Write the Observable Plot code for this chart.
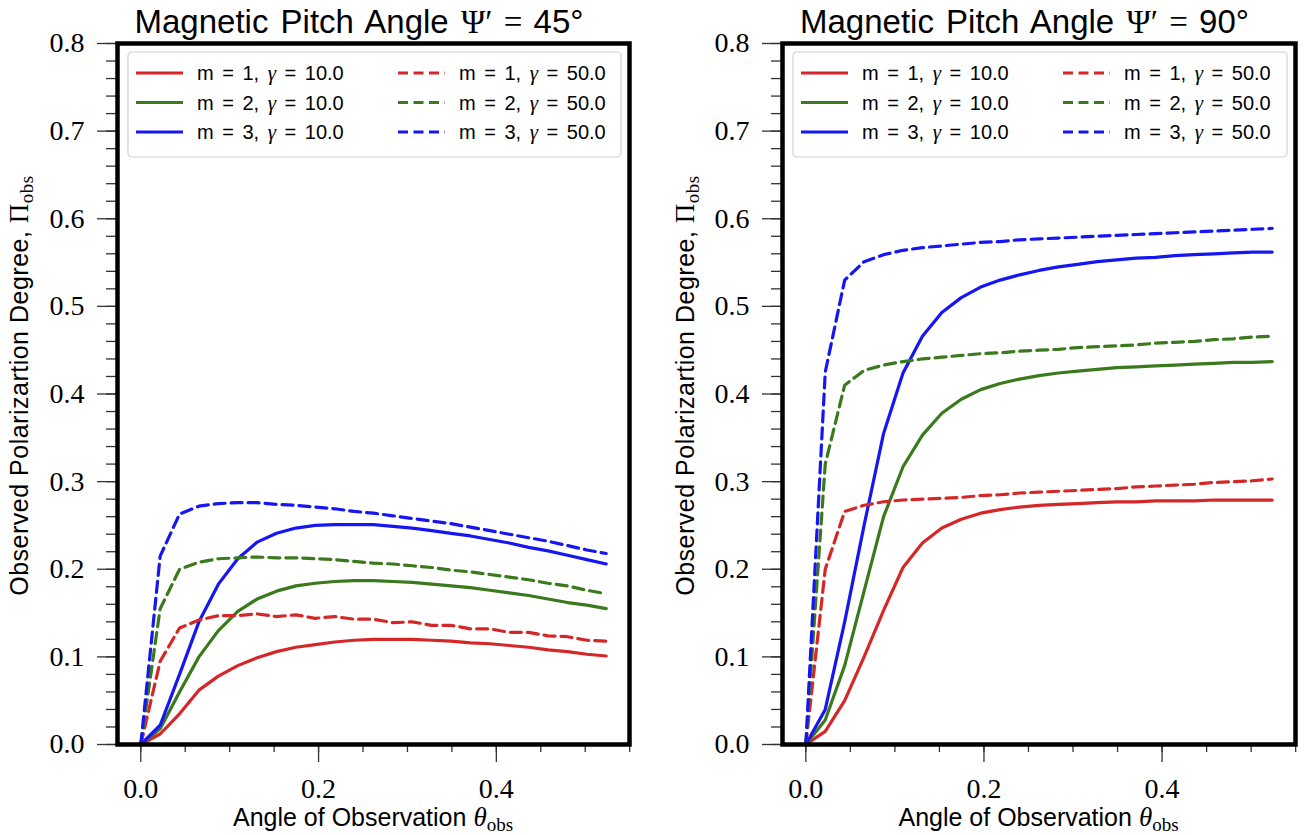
<!DOCTYPE html>
<html><head><meta charset="utf-8">
<script src="https://cdn.jsdelivr.net/npm/d3@7"></script>
<script src="https://cdn.jsdelivr.net/npm/@observablehq/plot@0.6"></script>
<style>
html,body{margin:0;padding:0;background:#fff;}
#wrap{position:relative;width:1306px;height:835px;overflow:hidden;background:#fff;}
#wrap svg{position:absolute;top:0;}
</style></head><body><div id="wrap"></div>
<script>
// Angle of observation theta_obs (radians)
const theta = [0, 0.0218, 0.0436, 0.0654, 0.0873, 0.1091, 0.1309, 0.1527, 0.1745, 0.1963, 0.2182, 0.2400, 0.2618, 0.2836, 0.3054, 0.3272, 0.3491, 0.3709, 0.3927, 0.4145, 0.4363, 0.4581, 0.4800, 0.5018, 0.5236];

// Pitch angle 45 deg
const p45_m1_g10 = [0, 0.012, 0.035, 0.062, 0.078, 0.090, 0.099, 0.106, 0.111, 0.114, 0.117, 0.119, 0.120, 0.120, 0.120, 0.119, 0.118, 0.116, 0.115, 0.113, 0.111, 0.108, 0.106, 0.103, 0.101];
const p45_m2_g10 = [0, 0.018, 0.060, 0.100, 0.130, 0.152, 0.166, 0.175, 0.181, 0.184, 0.186, 0.187, 0.187, 0.186, 0.185, 0.183, 0.181, 0.179, 0.176, 0.173, 0.170, 0.166, 0.162, 0.159, 0.155];
const p45_m3_g10 = [0, 0.022, 0.080, 0.140, 0.183, 0.212, 0.231, 0.241, 0.247, 0.250, 0.251, 0.251, 0.251, 0.249, 0.247, 0.244, 0.241, 0.238, 0.234, 0.230, 0.225, 0.221, 0.216, 0.211, 0.206];
const p45_m1_g50 = [0, 0.095, 0.133, 0.142, 0.147, 0.147, 0.149, 0.146, 0.148, 0.144, 0.146, 0.143, 0.143, 0.139, 0.140, 0.136, 0.136, 0.132, 0.132, 0.128, 0.128, 0.124, 0.123, 0.119, 0.118];
const p45_m2_g50 = [0, 0.155, 0.200, 0.208, 0.212, 0.213, 0.214, 0.213, 0.213, 0.212, 0.211, 0.209, 0.207, 0.206, 0.204, 0.202, 0.199, 0.197, 0.194, 0.191, 0.188, 0.184, 0.181, 0.176, 0.172];
const p45_m3_g50 = [0, 0.215, 0.263, 0.272, 0.275, 0.276, 0.276, 0.274, 0.273, 0.271, 0.269, 0.266, 0.264, 0.261, 0.258, 0.255, 0.252, 0.248, 0.244, 0.240, 0.236, 0.232, 0.227, 0.222, 0.218];

// Pitch angle 90 deg
const p90_m1_g10 = [0, 0.015, 0.050, 0.100, 0.153, 0.202, 0.230, 0.247, 0.257, 0.264, 0.268, 0.271, 0.273, 0.274, 0.275, 0.276, 0.277, 0.277, 0.278, 0.278, 0.278, 0.279, 0.279, 0.279, 0.279];
const p90_m2_g10 = [0, 0.028, 0.090, 0.175, 0.260, 0.317, 0.353, 0.378, 0.394, 0.405, 0.412, 0.417, 0.421, 0.424, 0.426, 0.428, 0.430, 0.431, 0.432, 0.433, 0.434, 0.435, 0.436, 0.436, 0.437];
const p90_m3_g10 = [0, 0.040, 0.140, 0.250, 0.355, 0.424, 0.466, 0.493, 0.510, 0.522, 0.530, 0.536, 0.541, 0.545, 0.548, 0.551, 0.553, 0.555, 0.556, 0.558, 0.559, 0.560, 0.561, 0.562, 0.562];
const p90_m1_g50 = [0, 0.200, 0.266, 0.273, 0.277, 0.279, 0.280, 0.281, 0.282, 0.284, 0.285, 0.287, 0.288, 0.289, 0.290, 0.291, 0.292, 0.294, 0.295, 0.296, 0.297, 0.299, 0.300, 0.301, 0.303];
const p90_m2_g50 = [0, 0.320, 0.410, 0.427, 0.433, 0.437, 0.440, 0.442, 0.444, 0.446, 0.447, 0.449, 0.450, 0.451, 0.453, 0.454, 0.455, 0.456, 0.458, 0.459, 0.460, 0.462, 0.463, 0.465, 0.466];
const p90_m3_g50 = [0, 0.425, 0.530, 0.551, 0.559, 0.564, 0.567, 0.569, 0.571, 0.573, 0.574, 0.576, 0.577, 0.578, 0.579, 0.580, 0.581, 0.582, 0.583, 0.584, 0.585, 0.586, 0.587, 0.588, 0.589];

const mValues = [1, 2, 3];
const gammaValues = ["10.0", "50.0"];
const seriesColors = ["#d62728", "#3a7a1c", "#1616f2"];
const pitchLabels = ["45", "90"];

const xMajorTicks = [0, 0.2, 0.4];
const xMinorTicks = [0, 0.05, 0.1, 0.15, 0.2, 0.25, 0.3, 0.35, 0.4, 0.45, 0.5, 0.55];
const yMajorTicks = [0, 0.1, 0.2, 0.3, 0.4, 0.5, 0.6, 0.7, 0.8];
const yMinorTicks = [0, 0.02, 0.04, 0.06, 0.08, 0.1, 0.12, 0.14, 0.16, 0.18, 0.2, 0.22, 0.24, 0.26, 0.28, 0.3, 0.32, 0.34, 0.36, 0.38, 0.4, 0.42, 0.44, 0.46, 0.48, 0.5, 0.52, 0.54, 0.56, 0.58, 0.6, 0.62, 0.64, 0.66, 0.68, 0.7, 0.72, 0.74, 0.76, 0.78, 0.8];

const panels = [
  {pitch: pitchLabels[0], left: 0, marginLeft: 117, marginRight: 24, ylabelX: 28,
   series: [[p45_m1_g10, p45_m2_g10, p45_m3_g10], [p45_m1_g50, p45_m2_g50, p45_m3_g50]]},
  {pitch: pitchLabels[1], left: 653, marginLeft: 129, marginRight: 11, ylabelX: 41,
   series: [[p90_m1_g10, p90_m2_g10, p90_m3_g10], [p90_m1_g50, p90_m2_g50, p90_m3_g50]]}
];

const W = 653, H = 835, MT = 43, MB = 91;
const SANS = "'Liberation Sans', Arial, sans-serif";
const SERIF = "'Liberation Serif', 'Times New Roman', serif";

const wrap = document.getElementById("wrap");

for (const p of panels) {
  const rows = [];
  p.series.forEach((group, gi) => group.forEach((vals, mi) => {
    vals.forEach((v, i) => rows.push({theta: theta[i], pi: v, m: mValues[mi], gamma: gammaValues[gi]}));
  }));
  const tickColor = "#333";
  const chart = Plot.plot({
    width: W, height: H,
    marginLeft: p.marginLeft, marginRight: p.marginRight, marginTop: MT, marginBottom: MB,
    x: {domain: [-0.0262, 0.5498], label: null},
    y: {domain: [0, 0.8], label: null},
    color: {domain: mValues, range: seriesColors},
    style: {fontFamily: SERIF, fontSize: "28px", color: "#000", background: "transparent", overflow: "visible"},
    marks: [
      Plot.line(rows.filter(d => d.gamma === gammaValues[0]), {x: "theta", y: "pi", z: "m", stroke: "m", strokeWidth: 3.2}),
      Plot.line(rows.filter(d => d.gamma === gammaValues[1]), {x: "theta", y: "pi", z: "m", stroke: "m", strokeWidth: 3.2, strokeDasharray: "11,6"}),
      Plot.axisX({ticks: xMinorTicks, tickSize: 8, tickFormat: () => "", stroke: tickColor, strokeWidth: 1.3, label: null}),
      Plot.axisX({ticks: xMajorTicks, tickSize: 18, tickPadding: 16, tickFormat: d3.format(".1f"), stroke: tickColor, strokeWidth: 1.3, fill: "#000", fontSize: 28, label: null}),
      Plot.axisY({ticks: yMinorTicks, tickSize: 11, tickFormat: () => "", stroke: tickColor, strokeWidth: 1.3, label: null}),
      Plot.axisY({ticks: yMajorTicks, tickSize: 20, tickPadding: 13, tickFormat: d3.format(".1f"), stroke: tickColor, strokeWidth: 1.3, fill: "#000", fontSize: 28, label: null}),
      Plot.frame({stroke: "#000", strokeWidth: 4.5})
    ]
  });
  chart.style.left = p.left + "px";
  wrap.appendChild(chart);

  const svg = d3.select(chart);
  const fl = p.marginLeft, fr = W - p.marginRight, ft = MT, fb = H - MB;
  const cx = (fl + fr) / 2;

  // Title
  const title = svg.append("text").attr("x", cx - 14).attr("y", 33).attr("text-anchor", "middle")
    .attr("font-size", 33).attr("fill", "#000").attr("word-spacing", 3);
  title.append("tspan").attr("font-family", SANS).text("Magnetic Pitch Angle ");
  title.append("tspan").attr("font-family", SERIF).text("\u03A8\u2032 = ");
  title.append("tspan").attr("font-family", SANS).text(p.pitch + "\u00B0");

  // X label
  const xl = svg.append("text").attr("x", cx).attr("y", 826).attr("text-anchor", "middle")
    .attr("font-size", 25).attr("fill", "#000").attr("font-family", SANS);
  xl.append("tspan").text("Angle of Observation ");
  xl.append("tspan").attr("font-family", SERIF).attr("font-style", "italic").attr("font-size", 27).text("\u03B8");
  xl.append("tspan").attr("font-family", SERIF).attr("font-size", 19).attr("dy", 5).text("obs");

  // Y label
  const yl = svg.append("text").attr("transform", `translate(${p.ylabelX},${(ft + fb) / 2 - 8}) rotate(-90)`)
    .attr("text-anchor", "middle").attr("font-size", 25).attr("fill", "#000").attr("font-family", SANS)
    .attr("letter-spacing", 0.5);
  yl.append("tspan").text("Observed Polarizartion Degree, ");
  yl.append("tspan").attr("font-family", SERIF).attr("font-size", 27).text("\u03A0");
  yl.append("tspan").attr("font-family", SERIF).attr("font-size", 19).attr("dy", 5).text("obs");

  // Legend
  const lx = fl + 11, ly = 52, lw = (fr - 8) - lx, lh = 105;
  const lg = svg.append("g").attr("transform", `translate(${lx},${ly})`);
  lg.append("rect").attr("width", lw).attr("height", lh).attr("rx", 4)
    .attr("fill", "#fff").attr("fill-opacity", 0.85).attr("stroke", "#d0d0d0").attr("stroke-width", 1.2);
  gammaValues.forEach((g, gi) => {
    mValues.forEach((m, mi) => {
      const x0 = gi === 0 ? 8 : 270;
      const y0 = 21 + mi * 29.5;
      lg.append("line").attr("x1", x0).attr("x2", x0 + 47).attr("y1", y0).attr("y2", y0)
        .attr("stroke", seriesColors[mi]).attr("stroke-width", 3)
        .attr("stroke-dasharray", gi === 0 ? null : "10,5.5");
      const t = lg.append("text").attr("x", x0 + 61).attr("y", y0 + 7).attr("font-size", 20)
        .attr("text-anchor", "start")
        .attr("font-family", SANS).attr("fill", "#000").attr("word-spacing", 3);
      t.append("tspan").text(`m = ${m}, `);
      t.append("tspan").attr("font-family", SERIF).attr("font-style", "italic").attr("font-size", 21).text("\u03B3");
      t.append("tspan").text(` = ${g}`);
    });
  });
}
</script>
</body></html>
